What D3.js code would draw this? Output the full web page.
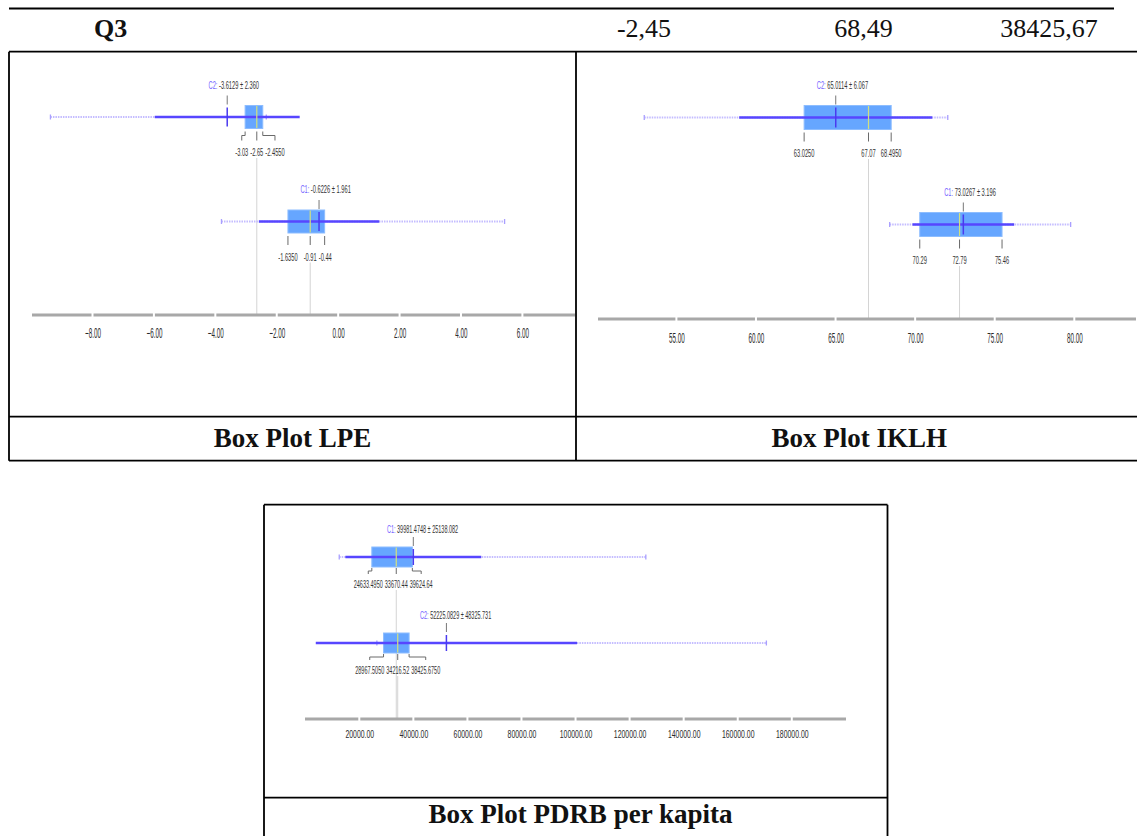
<!DOCTYPE html>
<html>
<head>
<meta charset="utf-8">
<script src="https://cdn.jsdelivr.net/npm/d3@7"></script>
<style>
  html, body { margin: 0; padding: 0; background: #fff; }
  svg { display: block; }
</style>
</head>
<body>
<svg id="chart" width="1137" height="836"></svg>
<script>
// ---------------- DATA ----------------
const headerLabel = "Q3";
const headerValues = ["-2,45", "68,49", "38425,67"];
const captions = ["Box Plot LPE", "Box Plot IKLH", "Box Plot PDRB per kapita"];

// LPE (rows top to bottom)
const lpeGroups = ["C2", "C1"];
const lpeMean   = [-3.6129, -0.6226];
const lpeSd     = [2.360, 1.961];
const lpeMin    = [-9.37, -3.80];
const lpeMax    = [-2.34, 5.42];
const lpeQ1     = [-3.03, -1.635];
const lpeMedian = [-2.65, -0.91];
const lpeQ3     = [-2.455, -0.44];
const lpeTicks  = [-8, -6, -4, -2, 0, 2, 4, 6];

// IKLH
const iklhGroups = ["C2", "C1"];
const iklhMean   = [65.0114, 73.0267];
const iklhSd     = [6.067, 3.196];
const iklhMin    = [52.98, 68.40];
const iklhMax    = [72.05, 79.77];
const iklhQ1     = [63.025, 70.29];
const iklhMedian = [67.07, 72.79];
const iklhQ3     = [68.495, 75.46];
const iklhTicks  = [55, 60, 65, 70, 75, 80];

// PDRB per kapita
const pdrbGroups = ["C1", "C2"];
const pdrbMean   = [39981.4748, 52225.0829];
const pdrbSd     = [25138.082, 48325.731];
const pdrbMin    = [12580, 26500];
const pdrbMax    = [126000, 170600];
const pdrbQ1     = [24633.495, 28967.505];
const pdrbMedian = [33670.44, 34216.52];
const pdrbQ3     = [39624.64, 38425.675];
const pdrbTicks  = [20000, 40000, 60000, 80000, 100000, 120000, 140000, 160000, 180000];

// ---------------- HELPERS ----------------
const svg = d3.select("#chart");
const SERIF = "'Liberation Serif', 'Times New Roman', serif";
const SANS = "'Liberation Sans', Arial, sans-serif";

function fmtQ(v) {
  const s2 = v.toFixed(2);
  return Math.abs(+s2 - v) < 1e-9 ? s2 : v.toFixed(4);
}
const fmtTick = d3.format(".2f");

function line(g, x1, y1, x2, y2, stroke, w, extra) {
  const l = g.append("line").attr("x1", x1).attr("y1", y1).attr("x2", x2).attr("y2", y2)
    .attr("stroke", stroke).attr("stroke-width", w);
  if (extra) l.attr("stroke-dasharray", extra);
  return l;
}

// ---------------- TABLE FRAME ----------------
const frame = svg.append("g");
line(frame, 9, 8.5, 1114, 8.5, "#000", 1.8);
line(frame, 9, 51.7, 1137, 51.7, "#000", 1.8);
line(frame, 9, 51.7, 9, 460.7, "#000", 1.8);
line(frame, 576, 51.7, 576, 460.7, "#000", 1.8);
line(frame, 9, 416.7, 1137, 416.7, "#000", 1.8);
line(frame, 9, 460.7, 1137, 460.7, "#000", 1.8);
// PDRB box
line(frame, 264, 504.7, 887.5, 504.7, "#000", 1.8);
line(frame, 264, 504.7, 264, 837, "#000", 1.8);
line(frame, 887.5, 504.7, 887.5, 837, "#000", 1.8);
line(frame, 264, 797.7, 887.5, 797.7, "#000", 1.8);

// header text
svg.append("text").attr("x", 94).attr("y", 37.3).attr("font-family", SERIF)
  .attr("font-size", 26).attr("font-weight", "bold").attr("fill", "#111").text(headerLabel);
const headerCenters = [644, 863.5, 1049];
headerValues.forEach((v, i) => {
  svg.append("text").attr("x", headerCenters[i]).attr("y", 37.3).attr("text-anchor", "middle")
    .attr("font-family", SERIF).attr("font-size", 26).attr("fill", "#111").text(v);
});

// captions
const captionPos = [[292.4, 447], [859.2, 446.7], [580.4, 823.3]];
captions.forEach((c, i) => {
  svg.append("text").attr("x", captionPos[i][0]).attr("y", captionPos[i][1]).attr("text-anchor", "middle")
    .attr("font-family", SERIF).attr("font-size", 27).attr("font-weight", "bold").attr("fill", "#111").text(c);
});

// ---------------- BOX PLOT PANELS ----------------
const panels = [
  {
    groups: lpeGroups, mean: lpeMean, sd: lpeSd, min: lpeMin, max: lpeMax,
    q1: lpeQ1, median: lpeMedian, q3: lpeQ3, ticks: lpeTicks,
    domain: [-8, 6], range: [92.5, 522.4], axisY: 315, axisExt: [31, 576],
    rowY: [117, 221.5], boxH: 23, labelFont: 11, labelSx: 0.52,
    tickFont: 14, tickSx: 0.45, tickDy: 23,
    meanLabelDy: 17, qTick: [3, 7, 12], qLabelDy: 27.5
  },
  {
    groups: iklhGroups, mean: iklhMean, sd: iklhSd, min: iklhMin, max: iklhMax,
    q1: iklhQ1, median: iklhMedian, q3: iklhQ3, ticks: iklhTicks,
    domain: [55, 80], range: [676.4, 1074.3], axisY: 319, axisExt: [597, 1137],
    rowY: [117.5, 224.5], boxH: 24, labelFont: 11, labelSx: 0.52,
    tickFont: 14, tickSx: 0.45, tickDy: 24,
    meanLabelDy: 17, qTick: [3, 7, 12], qLabelDy: 27.5
  },
  {
    groups: pdrbGroups, mean: pdrbMean, sd: pdrbSd, min: pdrbMin, max: pdrbMax,
    q1: pdrbQ1, median: pdrbMedian, q3: pdrbQ3, ticks: pdrbTicks,
    domain: [20000, 180000], range: [359.3, 791.8], axisY: 719, axisExt: [304, 847],
    rowY: [557, 643], boxH: 20, labelFont: 11, labelSx: 0.5,
    tickFont: 11.5, tickSx: 0.6, tickDy: 19,
    meanLabelDy: 14, qTick: [1, 4, 7], qLabelDy: 21
  }
];

function makeLabel(g, parts, cfg) {
  const gg = g.append("g");
  const t = gg.append("text").attr("text-anchor", "middle")
    .attr("font-family", SANS).attr("font-size", cfg.labelFont)
    .attr("transform", `scale(${cfg.labelSx},1)`);
  parts.forEach(p => t.append("tspan").attr("fill", p.fill).text(p.text));
  const w = t.node().getComputedTextLength() * cfg.labelSx;
  return { gg, w };
}

panels.forEach(cfg => {
  const x = d3.scaleLinear().domain(cfg.domain).range(cfg.range);
  const g = svg.append("g");
  const guides = g.append("g");
  const axisG = g.append("g");
  const boxes = g.append("g");

  // axis: segmented gray bar with gaps at ticks
  const bounds = [cfg.axisExt[0], ...cfg.ticks.map(x), cfg.axisExt[1]];
  for (let i = 0; i < bounds.length - 1; i++) {
    line(axisG, bounds[i] + 1, cfg.axisY, bounds[i + 1] - 1, cfg.axisY, "#a8a8a8", 3);
  }
  const ax = axisG.append("g").attr("transform", `translate(0,${cfg.axisY})`)
    .call(d3.axisBottom(x).tickValues(cfg.ticks).tickSize(0).tickPadding(0).tickFormat(fmtTick));
  ax.select(".domain").remove();
  ax.attr("font-family", SANS).attr("font-size", cfg.tickFont);
  ax.selectAll(".tick text").attr("y", 0).attr("dy", 0).attr("fill", "#2a2a2a")
    .attr("transform", `translate(0,${cfg.tickDy}) scale(${cfg.tickSx},1)`);

  cfg.groups.forEach((name, i) => {
    const cy = cfg.rowY[i];
    const top = cy - cfg.boxH / 2, bot = cy + cfg.boxH / 2;
    const xm = x(cfg.mean[i]);

    // min–max dotted range
    line(boxes, x(cfg.min[i]), cy, x(cfg.max[i]), cy, "#c4bcff", 1.8, "1.5,1");
    [cfg.min[i], cfg.max[i]].forEach(v => line(boxes, x(v), cy - 2.5, x(v), cy + 2.5, "#a99fff", 1.3));

    // box
    boxes.append("rect").attr("x", x(cfg.q1[i])).attr("y", top)
      .attr("width", x(cfg.q3[i]) - x(cfg.q1[i])).attr("height", cfg.boxH)
      .attr("fill", "#66a6ff").attr("stroke", "#8dbdff").attr("stroke-width", 1);

    // mean ± sd
    line(boxes, x(cfg.mean[i] - cfg.sd[i]), cy, x(cfg.mean[i] + cfg.sd[i]), cy, "#5746ff", 2.4);
    // median
    line(boxes, x(cfg.median[i]), top + 0.5, x(cfg.median[i]), bot - 0.5, "#d3e07e", 1.2);
    // mean
    line(boxes, xm, top + 2, xm, bot - 2, "#4a3aef", 1.5);

    // mean label
    line(boxes, xm, top - 10, xm, top - 1, "#777", 1);
    const ml = makeLabel(boxes, [{ text: name + ": ", fill: "#7463ff" },
      { text: cfg.mean[i].toFixed(4) + " \u00b1 " + cfg.sd[i].toFixed(3), fill: "#333" }], cfg);
    ml.gg.attr("transform", `translate(${xm + 0.13 * ml.w},${top - cfg.meanLabelDy})`);

    // quartile labels
    const qv = [cfg.q1[i], cfg.median[i], cfg.q3[i]];
    const items = qv.map(v => {
      const lab = makeLabel(boxes, [{ text: fmtQ(v), fill: "#333" }], cfg);
      return { gg: lab.gg, w: lab.w, tx: x(v), cx: x(v) };
    });
    const gap = 2;
    const [l, m, r] = items;
    if (l.cx + l.w / 2 > m.cx - m.w / 2 - gap) l.cx = m.cx - m.w / 2 - gap - l.w / 2;
    if (r.cx - r.w / 2 < m.cx + m.w / 2 + gap) r.cx = m.cx + m.w / 2 + gap + r.w / 2;
    const baseY = bot + cfg.qLabelDy;
    items.forEach(it => {
      it.gg.attr("transform", `translate(${it.cx},${baseY})`);
      const [a, mid, c] = cfg.qTick;
      const p = Math.abs(it.cx - it.tx) < 0.6
        ? `M${it.tx},${bot + a}V${bot + c}`
        : `M${it.tx},${bot + a}V${bot + mid}H${it.cx}V${bot + c}`;
      boxes.append("path").attr("d", p).attr("fill", "none").attr("stroke", "#6a6a6a").attr("stroke-width", 1);
    });

    // gray guide line from median to axis
    line(guides, x(cfg.median[i]), baseY + 2, x(cfg.median[i]), cfg.axisY - 1, "#d4d4d4", 1);
  });
});
</script>
</body>
</html>
